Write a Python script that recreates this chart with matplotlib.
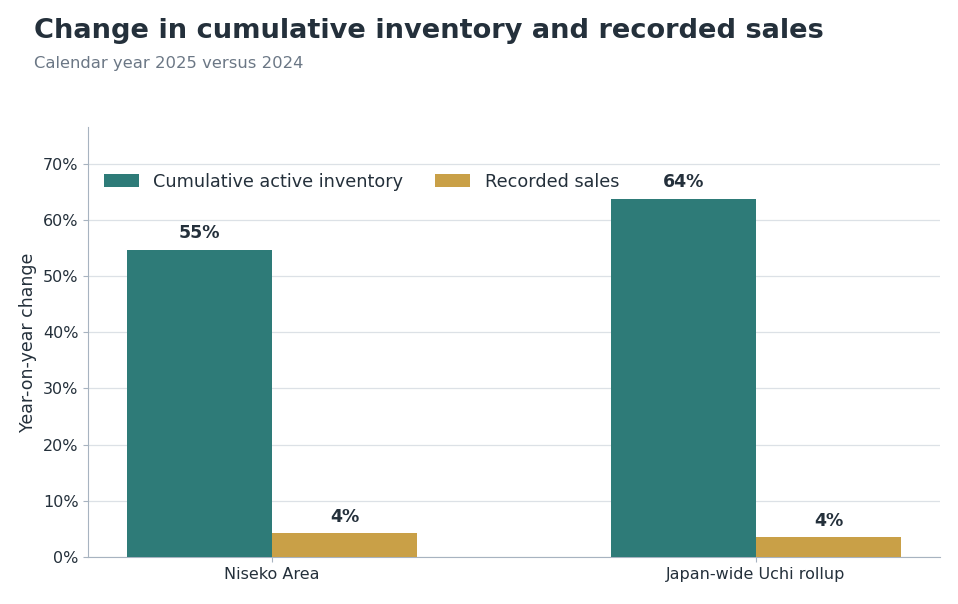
import matplotlib
matplotlib.use("Agg")
import matplotlib.pyplot as plt
import numpy as np

# ─── Data ─────────────────────────────────────────────────────────────────────
categories = ["Niseko Area", "Japan-wide Uchi rollup"]
inventory_change = [54.7, 63.8]
sales_change = [4.2, 3.5]
series_names = ["Cumulative active inventory", "Recorded sales"]

TEAL = "#2E7B78"
GOLD = "#C9A047"
DARK = "#24303B"
GREY = "#6B7785"
SPINE = "#A7B3C0"
GRID = "#DCE1E6"

fig = plt.figure(figsize=(9.58, 6.04), dpi=100)
ax = fig.add_axes([0.092, 0.078, 0.889, 0.712])

x = np.arange(len(categories))
w = 0.3
b1 = ax.bar(x - w / 2, inventory_change, w, color=TEAL, label=series_names[0], zorder=3)
b2 = ax.bar(x + w / 2, sales_change, w, color=GOLD, label=series_names[1], zorder=3)

for bars in (b1, b2):
    for r in bars:
        h = r.get_height()
        ax.annotate(f"{h:.0f}%", (r.get_x() + r.get_width() / 2, h),
                    xytext=(0, 5.5), textcoords="offset points",
                    ha="center", va="bottom", fontsize=12.5,
                    fontweight="bold", color=DARK)

ax.set_ylim(0, max(inventory_change) * 1.2)
ax.set_yticks(np.arange(0, 71, 10))
ax.set_yticklabels([f"{v}%" for v in range(0, 71, 10)])
ax.set_xticks(x)
ax.set_xticklabels(categories)
ax.tick_params(axis="both", labelsize=11.5, colors=DARK)
ax.tick_params(axis="both", color=SPINE)
ax.set_ylabel("Year-on-year change", fontsize=12.5, color=DARK)

ax.yaxis.grid(True, color=GRID, linewidth=0.9, zorder=0)
ax.set_axisbelow(True)
for s in ("top", "right"):
    ax.spines[s].set_visible(False)
for s in ("left", "bottom"):
    ax.spines[s].set_color(SPINE)

leg = ax.legend(loc="upper left", ncol=2, frameon=False, fontsize=12.7,
                bbox_to_anchor=(0.0, 0.93), columnspacing=1.8)
for t in leg.get_texts():
    t.set_color(DARK)

fig.text(0.035, 0.948, "Change in cumulative inventory and recorded sales",
         fontsize=19.6, fontweight="bold", color=DARK, va="center")
fig.text(0.035, 0.895, "Calendar year 2025 versus 2024",
         fontsize=11.8, color=GREY, va="center")

fig.savefig("out.png", dpi=100)
